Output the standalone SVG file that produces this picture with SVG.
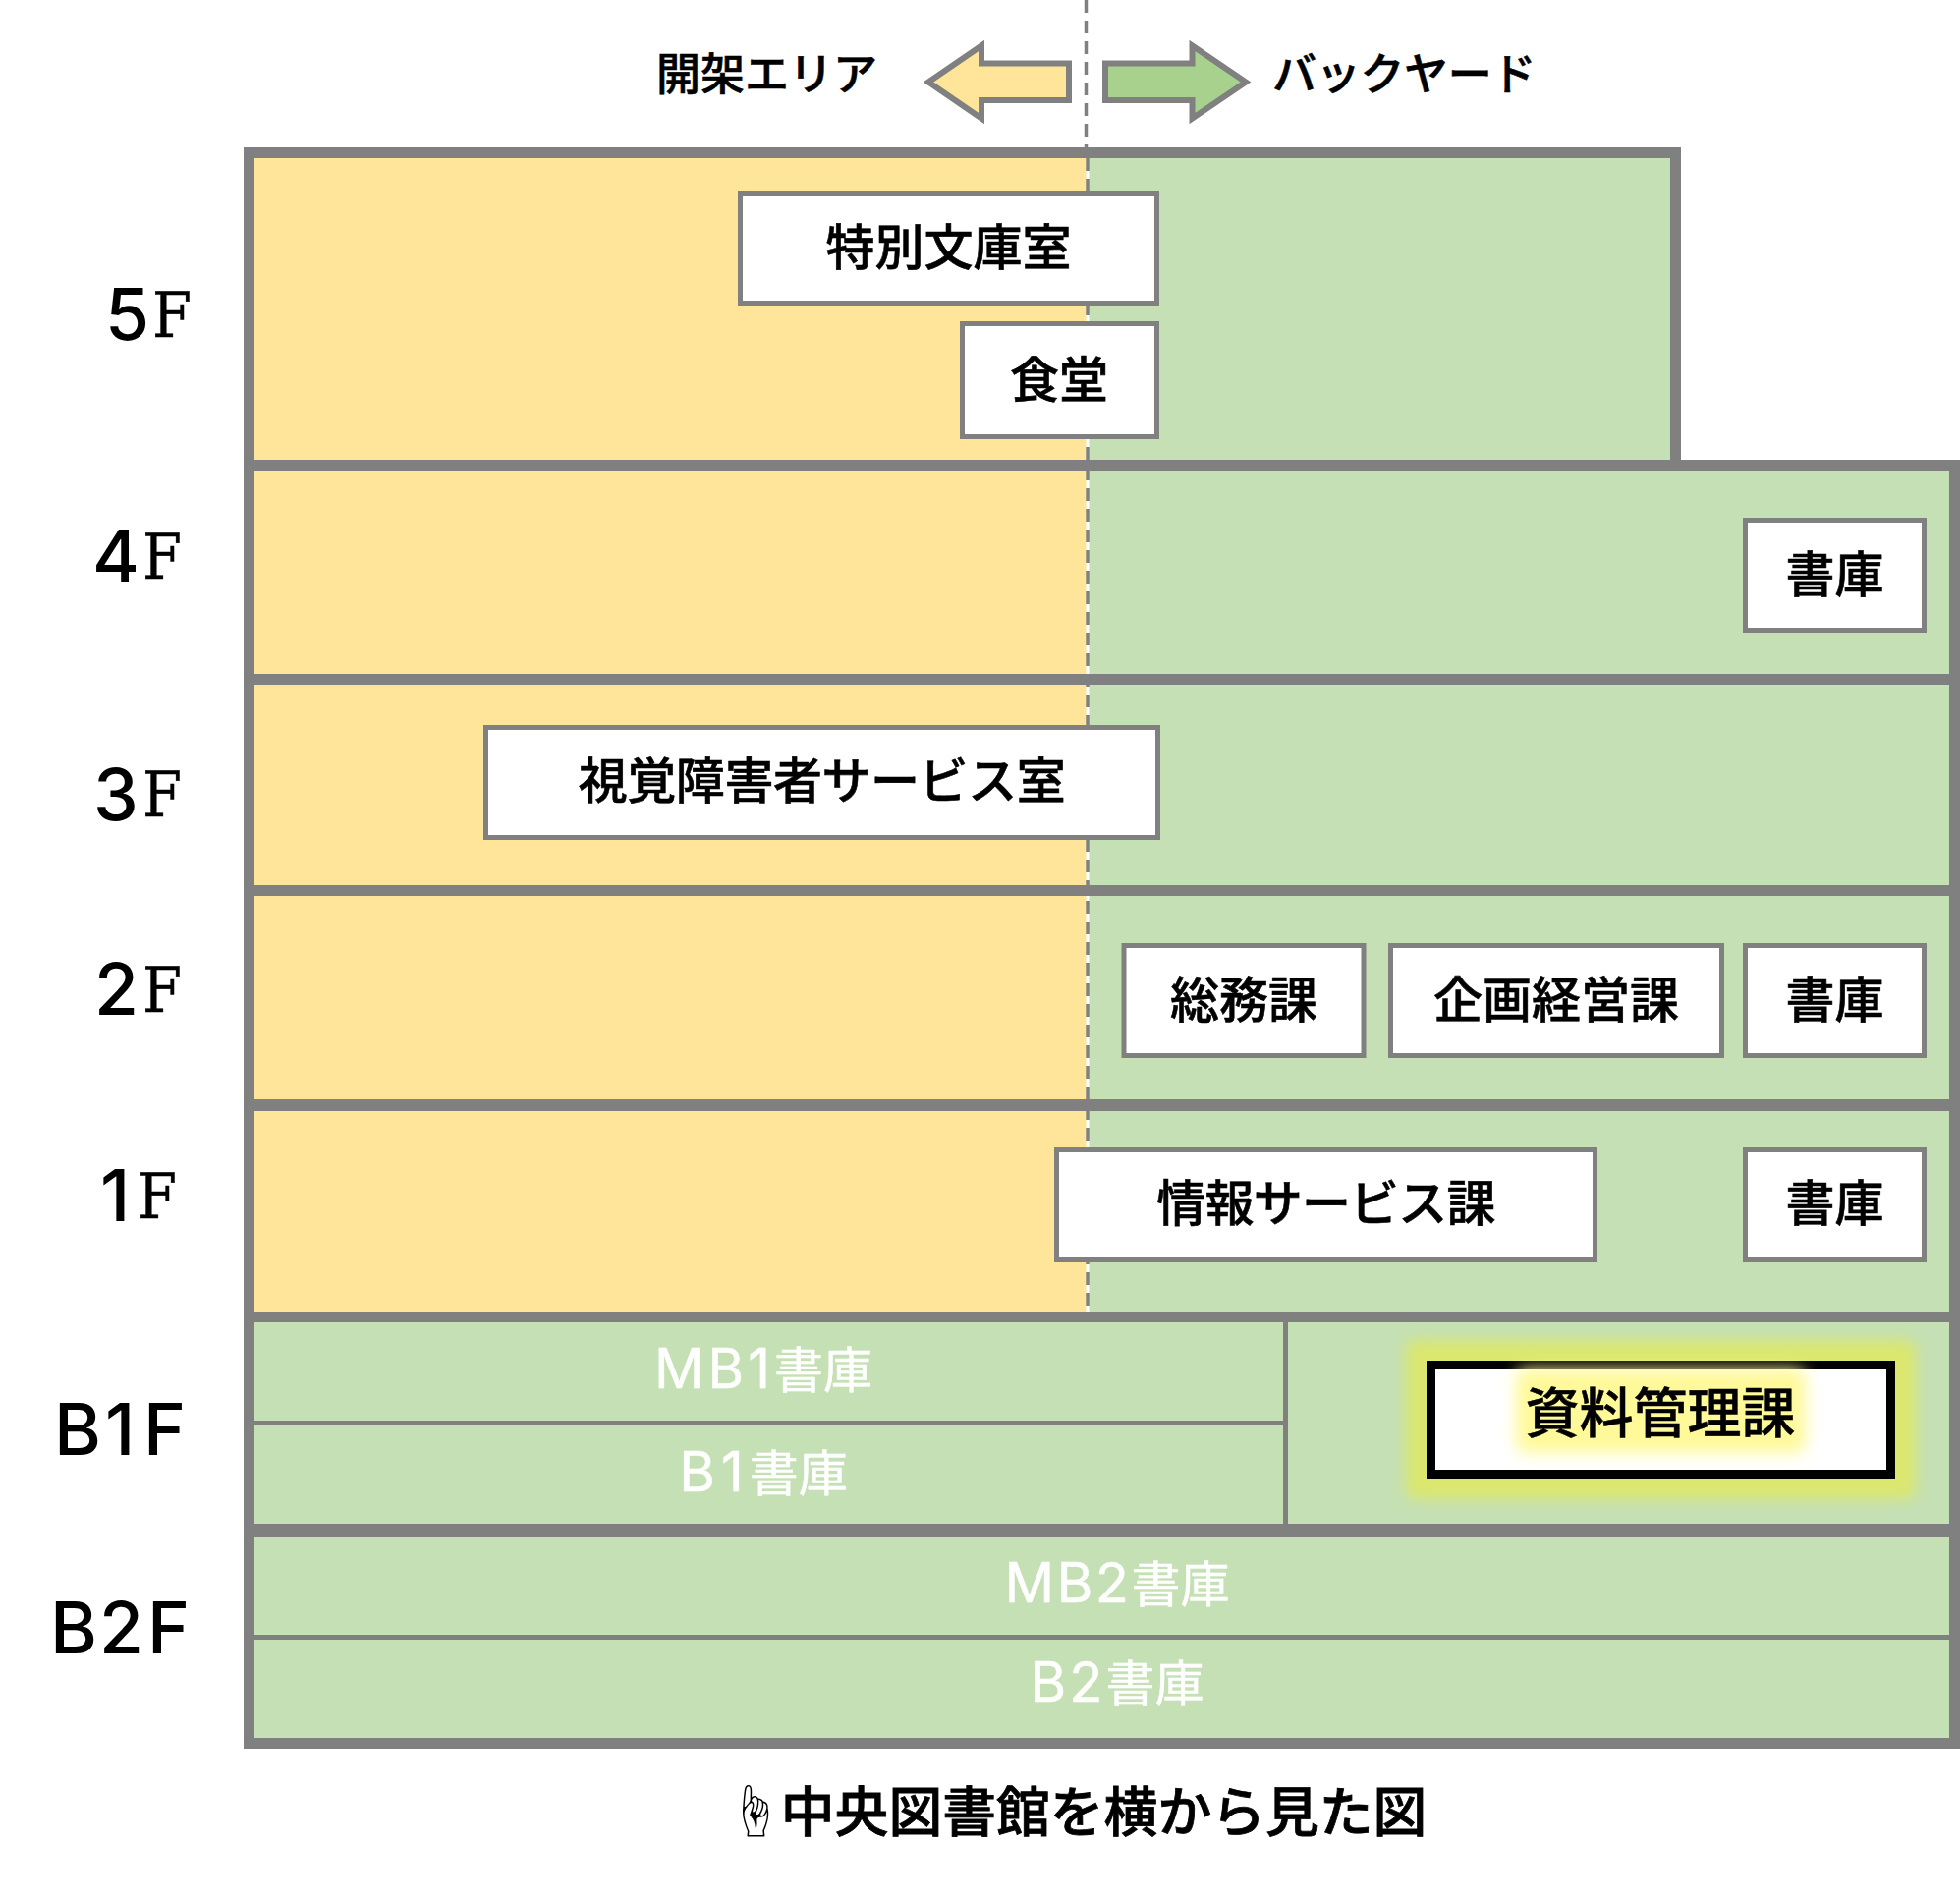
<svg xmlns="http://www.w3.org/2000/svg" width="1995" height="1934" viewBox="0 0 1995 1934">
<style>
.g{fill:#808080}
.y{fill:#ffe599}
.gr{fill:#c5e0b4}
.box{fill:#fff;stroke:#808080;stroke-width:5}
text{font-family:"Noto Sans CJK JP","Noto Sans CJK SC",sans-serif;fill:#000}
.t{font-size:50px;font-weight:500;text-anchor:middle;stroke:#000;stroke-width:.6}
.w{font-size:50px;font-weight:400;text-anchor:middle;fill:#fff;stroke:#fff;stroke-width:.5}
.w .l{font-family:Inter,sans-serif;font-size:56px}
.h{font-size:45px;font-weight:500;stroke:#000;stroke-width:.6}
.d{font-family:Inter,sans-serif;font-size:73px;font-weight:500}
.s{font-family:"DejaVu Serif Condensed","DejaVu Serif",serif;font-size:64px;stroke:#000;stroke-width:.4}
.b{font-family:Inter,sans-serif;font-size:73px;font-weight:500}
.arrow{stroke:#808080;stroke-width:6;stroke-miterlimit:10}
.dash{stroke:#808080;stroke-width:3.5;stroke-dasharray:13 8;fill:none}
</style>
<defs>
<filter id="blur" x="-20%" y="-40%" width="140%" height="180%"><feGaussianBlur stdDeviation="7"/></filter>
<filter id="blur2" x="-20%" y="-40%" width="140%" height="180%"><feGaussianBlur stdDeviation="8"/></filter>
</defs>
<rect width="1995" height="1934" fill="#fff"/>
<g id="building">
<rect class="y" x="259" y="161" width="846.5" height="1174"/>
<rect class="gr" x="1108.5" y="161" width="600" height="307"/>
<rect class="gr" x="1108.5" y="479" width="876" height="856"/>
<rect class="gr" x="259" y="1346" width="1725" height="423"/>
<rect class="g" x="248" y="150" width="1463" height="11"/>
<rect class="g" x="248" y="150" width="11" height="1630"/>
<rect class="g" x="1700" y="150" width="11" height="329"/>
<rect class="g" x="248" y="468" width="1747" height="11"/>
<rect class="g" x="248" y="686" width="1747" height="11"/>
<rect class="g" x="248" y="901" width="1747" height="11"/>
<rect class="g" x="248" y="1119" width="1747" height="12"/>
<rect class="g" x="248" y="1335" width="1747" height="11"/>
<rect class="g" x="248" y="1551" width="1747" height="13"/>
<rect class="g" x="248" y="1769" width="1747" height="11"/>
<rect class="g" x="1984" y="468" width="11" height="1312"/>
<rect class="g" x="1306" y="1346" width="5" height="205"/>
<rect class="g" x="259" y="1446" width="1047" height="5"/>
<rect class="g" x="259" y="1664" width="1725" height="5"/>
</g>
<g id="connectors">
<line class="dash" x1="1105.5" y1="0" x2="1105.5" y2="150"/>
<line class="dash" x1="1107" y1="161" x2="1107" y2="1335"/>
</g>
<g id="legend-open">
<text class="h" x="668" y="92">開架エリア</text>
<polygon class="arrow" fill="#ffe599" points="945,83.5 999,46.5 999,64.5 1088,64.5 1088,102 999,102 999,120.5"/>
</g>
<g id="legend-back">
<polygon class="arrow" fill="#a9d18e" points="1268,83.5 1213.5,46.5 1213.5,64.5 1125,64.5 1125,102 1213.5,102 1213.5,120.5"/>
<text class="h" x="1295" y="92" style="letter-spacing:-.3px">バックヤード</text>
</g>
<g id="floor-labels">
<g id="label-5F"><text class="d" x="107" y="346">5</text><text class="s" x="155" y="343">F</text></g>
<g id="label-4F"><text class="d" x="94" y="592">4</text><text class="s" x="145" y="589">F</text></g>
<g id="label-3F"><text class="d" x="95" y="835">3</text><text class="s" x="145" y="831">F</text></g>
<g id="label-2F"><text class="d" x="96" y="1033">2</text><text class="s" x="145" y="1030">F</text></g>
<g id="label-1F"><text class="d" x="102" y="1243">1</text><text class="s" x="140" y="1240">F</text></g>
<text id="label-B1F" class="b" x="55 107 146" y="1481">B1F</text>
<text id="label-B2F" class="b" x="51 101 150" y="1683">B2F</text>
</g>
<g id="room-tokubetsu"><rect class="box" x="753.5" y="196.5" width="424" height="112"/><text class="t" x="965.5" y="270">特別文庫室</text></g>
<g id="room-shokudo"><rect class="box" x="979.5" y="329.5" width="198" height="115"/><text class="t" x="1078" y="405">食堂</text></g>
<g id="room-shoko-4F"><rect class="box" x="1776.5" y="529.5" width="182" height="112"/><text class="t" x="1867.5" y="603">書庫</text></g>
<g id="room-shikaku"><rect class="box" x="494.5" y="740.5" width="684" height="112"/><text class="t" x="836.5" y="813" style="letter-spacing:-.45px">視覚障害者サービス室</text></g>
<g id="room-somu"><rect class="box" x="1144" y="962.5" width="244" height="112"/><text class="t" x="1266" y="1036">総務課</text></g>
<g id="room-kikaku"><rect class="box" x="1415.5" y="962.5" width="337" height="112"/><text class="t" x="1584" y="1036">企画経営課</text></g>
<g id="room-shoko-2F"><rect class="box" x="1776.5" y="962.5" width="182" height="112"/><text class="t" x="1867.5" y="1036">書庫</text></g>
<g id="room-joho"><rect class="box" x="1075.5" y="1170.5" width="548" height="112"/><text class="t" x="1349.5" y="1243" style="letter-spacing:-.8px">情報サービス課</text></g>
<g id="room-shoko-1F"><rect class="box" x="1776.5" y="1170.5" width="182" height="112"/><text class="t" x="1867.5" y="1243">書庫</text></g>
<g id="stack-MB1"><text class="w" x="777" y="1413"><tspan class="l" style="letter-spacing:4px">MB1</tspan>書庫</text></g>
<g id="stack-B1"><text class="w" x="777" y="1518"><tspan class="l" style="letter-spacing:6px">B1</tspan>書庫</text></g>
<g id="stack-MB2"><text class="w" x="1137" y="1631"><tspan class="l" style="letter-spacing:2.5px">MB2</tspan>書庫</text></g>
<g id="stack-B2"><text class="w" x="1137" y="1732"><tspan class="l" style="letter-spacing:3px">B2</tspan>書庫</text></g>
<g id="room-shiryo">
<rect x="1431" y="1364" width="519" height="162" rx="10" fill="#dbe76e" filter="url(#blur)"/>
<rect x="1456.5" y="1389.5" width="468" height="111" fill="#fff" stroke="#000" stroke-width="9"/>
<rect x="1543" y="1393" width="295" height="86" rx="10" fill="#fff99a" filter="url(#blur2)"/>
<text x="1690" y="1458" font-size="55" font-weight="500" text-anchor="middle" stroke="#000" stroke-width=".5">資料管理課</text>
</g>
<g id="caption">
<text x="740" y="1864" font-size="54.8" font-weight="500" stroke="#000" stroke-width=".8"><tspan stroke-width="0">☝</tspan>中央図書館を横から見た図</text>
</g>
</svg>
